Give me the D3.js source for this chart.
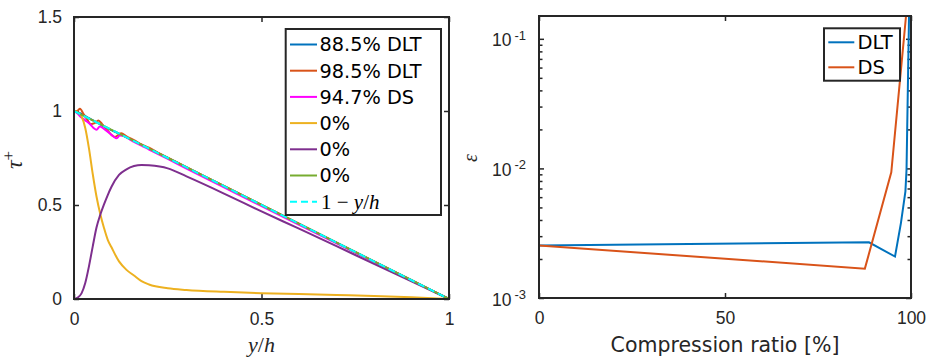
<!DOCTYPE html>
<html>
<head>
<meta charset="utf-8">
<script src="https://cdn.jsdelivr.net/npm/d3@7/dist/d3.min.js"></script>
<style>
  body { margin: 0; background: #fff; }
  svg { display: block; font-family: "DejaVu Sans", sans-serif; }
  .tick text { fill: #262626; }
</style>
</head>
<body>
<svg id="chart" width="934" height="359"></svg>
<script>
// ---- left panel: shear stress profiles ----
const yh = [0, .01, .02, .03, .04, .05, .06, .07, .08, .09, .10, .12, .14, .16, .18, .20, .25, .30, .40, .50, .60, .70, .80, .90, 1.0];
const viscous0 = [1.0, .993, .972, .91, .80, .665, .545, .452, .378, .315, .275, .20, .155, .125, .095, .077, .057, .048, .038, .031, .026, .021, .016, .009, 0];
const reynolds0 = [0, .008, .03, .085, .175, .28, .38, .448, .503, .553, .597, .66, .69, .707, .713, .711, .695, .652, .561, .466, .374, .281, .187, .094, 0];
const total0 = [1.0, .99, .98, .97, .96, .95, .94, .93, .92, .91, .90, .88, .86, .84, .82, .80, .75, .70, .60, .50, .40, .30, .20, .10, 0];

const dlt885X = [0, .02, .04, .06, .08, .10, .15, .20, .30, .50, .70, .90, 1.0];
const dlt885 = [1.0, .985, .962, .94, .918, .898, .85, .80, .70, .50, .30, .10, 0];

const dlt985X = [0, .008, .016, .025, .035, .045, .055, .065, .075, .09, .10, .109, .118, .126, .14, .16, .18, .20, .22, .25, .30, .35, .40, .50, .60, .70, .80, .90, 1.0];
const dlt985 = [1.0, 1.0, 1.012, .985, .955, .93, .935, .95, .93, .895, .872, .862, .872, .882, .865, .845, .822, .805, .783, .752, .702, .651, .601, .501, .401, .30, .20, .10, 0];

const ds947X = [0, .01, .02, .03, .043, .052, .06, .069, .08, .095, .105, .114, .122, .13, .145, .16, .18, .20, .25, .30, .40, .50, .60, .70, .80, .90, 1.0];
const ds947 = [1.0, .985, .965, .95, .93, .91, .90, .918, .905, .882, .865, .855, .87, .868, .853, .836, .816, .795, .745, .694, .594, .494, .395, .296, .197, .098, 0];

const linearX = [0, 1];
const linear = [1, 0];

const leftXTicks = [0, 0.5, 1];
const leftYTicks = [0, 0.5, 1, 1.5];

// ---- right panel: error vs compression ratio ----
const dltRatio = [0, 88.7, 95.7, 97.3, 98.5, 98.8, 99.5];
const dltErr = [2.54e-3, 2.69e-3, 2.09e-3, 3.8e-3, 6.65e-3, 9.8e-3, 0.17];
const dsRatio = [0, 87.6, 94.7, 99.0];
const dsErr = [2.54e-3, 1.685e-3, 9.33e-3, 0.19];

const rightXTicks = [0, 50, 100];
const rightYTicks = [1e-3, 1e-2, 1e-1];

const ink = "#262626";
const svg = d3.select("#chart");

// generic box with inward ticks on all four sides
function drawFrame(g, x, y, xt, yt, w, h) {
  g.append("g").attr("transform", "translate(0," + h + ")")
    .call(d3.axisBottom(x).tickValues(xt).tickSize(-5).tickSizeOuter(0).tickPadding(14).tickFormat(d3.format("")))
    .call(a => a.select(".domain").remove());
  g.append("g")
    .call(d3.axisTop(x).tickValues(xt).tickSize(-5).tickSizeOuter(0).tickFormat(""))
    .call(a => a.select(".domain").remove());
  g.append("g").attr("transform", "translate(" + w + ",0)")
    .call(d3.axisRight(y).tickValues(yt).tickSize(-5).tickSizeOuter(0).tickFormat(""))
    .call(a => a.select(".domain").remove());
  g.selectAll(".tick line").attr("stroke", ink).attr("stroke-width", 1.5);
  g.selectAll(".tick text").style("font-size", "17.5px");
}

// ================= left =================
const L = { left: 74, top: 17, w: 375, h: 282 };
const gl = svg.append("g").attr("transform", "translate(" + L.left + "," + L.top + ")");
const xl = d3.scaleLinear().domain([0, 1]).range([0, L.w]);
const yl = d3.scaleLinear().domain([0, 1.5]).range([L.h, 0]);

drawFrame(gl, xl, yl, leftXTicks, leftYTicks, L.w, L.h);
gl.append("g")
  .call(d3.axisLeft(yl).tickValues(leftYTicks).tickSize(-5).tickSizeOuter(0).tickPadding(12).tickFormat(d3.format("")))
  .call(a => a.select(".domain").remove())
  .call(a => a.selectAll(".tick line").attr("stroke", ink).attr("stroke-width", 1.5))
  .call(a => a.selectAll(".tick text").style("font-size", "17.5px"));

const lineL = d3.line().x(d => xl(d[0])).y(d => yl(d[1])).curve(d3.curveMonotoneX);
const leftSeries = [
  { x: dlt885X, v: dlt885, c: "#0072BD", name: "88.5% DLT" },
  { x: dlt985X, v: dlt985, c: "#D95319", name: "98.5% DLT" },
  { x: ds947X, v: ds947, c: "#FF00FF", name: "94.7% DS" },
  { x: yh, v: viscous0, c: "#EDB120", name: "0%" },
  { x: yh, v: reynolds0, c: "#7E2F8E", name: "0%" },
  { x: yh, v: total0, c: "#77AC30", name: "0%" },
  { x: linearX, v: linear, c: "#00FFFF", name: "lin", dash: "7,4" }
];
gl.selectAll("path.series")
  .data(leftSeries)
  .enter()
  .append("path")
  .attr("class", "series")
  .attr("d", s => lineL(s.x.map((xv, i) => [xv, s.v[i]])))
  .attr("fill", "none")
  .attr("stroke", s => s.c)
  .attr("stroke-width", 2)
  .attr("stroke-dasharray", s => s.dash || null);

gl.append("rect").attr("width", L.w).attr("height", L.h)
  .attr("fill", "none").attr("stroke", ink).attr("stroke-width", 2);

// legend left
const lg = svg.append("g");
lg.append("rect").attr("x", 285.7).attr("y", 29).attr("width", 155.3).attr("height", 186)
  .attr("fill", "#fff").attr("stroke", ink).attr("stroke-width", 2);
leftSeries.forEach((s, i) => {
  const yy = 44.5 + i * 26.2;
  lg.append("line").attr("x1", 290).attr("x2", 317).attr("y1", yy).attr("y2", yy)
    .attr("stroke", s.c).attr("stroke-width", 2).attr("stroke-dasharray", s.dash || null);
  if (s.name === "lin") {
    const t = lg.append("text").attr("x", 321).attr("y", yy).attr("dy", "0.33em")
      .style("font-family", "'Liberation Serif', serif").style("font-size", "21px");
    t.append("tspan").text("1 \u2212 ");
    t.append("tspan").attr("font-style", "italic").text("y");
    t.append("tspan").text("/");
    t.append("tspan").attr("font-style", "italic").text("h");
  } else {
    lg.append("text").attr("x", 319.5).attr("y", yy).attr("dy", "0.36em")
      .style("font-size", "19.3px").attr("fill", "#000").text(s.name);
  }
});

// axis labels left
const xlab = svg.append("text").attr("x", L.left + L.w / 2).attr("y", 352)
  .attr("text-anchor", "middle").attr("fill", ink)
  .style("font-family", "'Liberation Serif', serif").style("font-size", "22px");
xlab.append("tspan").attr("font-style", "italic").text("y");
xlab.append("tspan").text("/");
xlab.append("tspan").attr("font-style", "italic").text("h");

const ylab = svg.append("text").attr("transform", "translate(21.5,160) rotate(-90)")
  .attr("text-anchor", "middle").attr("fill", ink)
  .style("font-family", "'Liberation Serif', serif").style("font-size", "24px");
ylab.append("tspan").attr("font-style", "italic").text("\u03c4");
ylab.append("tspan").attr("dy", "-0.45em").style("font-size", "17px").text("+");

// ================= right =================
const R = { left: 539, top: 16, w: 372, h: 282 };
const gr = svg.append("g").attr("transform", "translate(" + R.left + "," + R.top + ")");
const xr = d3.scaleLinear().domain([0, 100]).range([0, R.w]);
const yr = d3.scaleLog().domain([1e-3, 0.15]).range([R.h, 0]);

const minors = yr.ticks().filter(v => rightYTicks.indexOf(v) < 0 && Math.abs(Math.log10(v) % 1) > 1e-6);

drawFrame(gr, xr, yr, rightXTicks, rightYTicks, R.w, R.h);
gr.append("g").attr("transform", "translate(" + R.w + ",0)")
  .call(d3.axisRight(yr).tickValues(minors).tickSize(-3.5).tickSizeOuter(0).tickFormat(""))
  .call(a => a.select(".domain").remove())
  .call(a => a.selectAll(".tick line").attr("stroke", ink).attr("stroke-width", 1.5));
gr.append("g")
  .call(d3.axisLeft(yr).tickValues(minors).tickSize(-3.5).tickSizeOuter(0).tickFormat(""))
  .call(a => a.select(".domain").remove())
  .call(a => a.selectAll(".tick line").attr("stroke", ink).attr("stroke-width", 1.5));
const yAxR = gr.append("g")
  .call(d3.axisLeft(yr).tickValues(rightYTicks).tickSize(-5).tickSizeOuter(0).tickPadding(10).tickFormat(""))
  .call(a => a.select(".domain").remove())
  .call(a => a.selectAll(".tick line").attr("stroke", ink).attr("stroke-width", 1.5));
yAxR.selectAll(".tick").each(function (d) {
  const t = d3.select(this).append("text").attr("x", -13).attr("y", 0).attr("dy", "0.4em")
    .attr("text-anchor", "end").attr("fill", ink).style("font-size", "17.5px");
  t.append("tspan").text("10");
  t.append("tspan").attr("dx", "3").attr("dy", "-0.5em").style("font-size", "13px").text(String(Math.round(Math.log10(d))));
});

gr.append("clipPath").attr("id", "clipR")
  .append("rect").attr("width", R.w).attr("height", R.h);

const lineR = d3.line().x(d => xr(d[0])).y(d => yr(d[1]));
const rightSeries = [
  { x: dltRatio, v: dltErr, c: "#0072BD", name: "DLT" },
  { x: dsRatio, v: dsErr, c: "#D95319", name: "DS" }
];
gr.append("g").attr("clip-path", "url(#clipR)")
  .selectAll("path")
  .data(rightSeries)
  .enter()
  .append("path")
  .attr("d", s => lineR(s.x.map((xv, i) => [xv, s.v[i]])))
  .attr("fill", "none")
  .attr("stroke", s => s.c)
  .attr("stroke-width", 2);

gr.append("rect").attr("width", R.w).attr("height", R.h)
  .attr("fill", "none").attr("stroke", ink).attr("stroke-width", 2);

// legend right
const rg = svg.append("g");
rg.append("rect").attr("x", 824).attr("y", 28.3).attr("width", 76).attr("height", 52.4)
  .attr("fill", "#fff").attr("stroke", ink).attr("stroke-width", 2);
rightSeries.forEach((s, i) => {
  const yy = 42.3 + i * 25;
  rg.append("line").attr("x1", 828.3).attr("x2", 854.3).attr("y1", yy).attr("y2", yy)
    .attr("stroke", s.c).attr("stroke-width", 2);
  rg.append("text").attr("x", 857.5).attr("y", yy).attr("dy", "0.36em")
    .style("font-size", "19.5px").attr("fill", "#000").text(s.name);
});

svg.append("text").attr("x", R.left + R.w / 2).attr("y", 352)
  .attr("text-anchor", "middle").attr("fill", ink).style("font-size", "20.5px")
  .text("Compression ratio [%]");

svg.append("text").attr("transform", "translate(477,158) rotate(-90)")
  .attr("text-anchor", "middle").attr("fill", ink)
  .style("font-family", "'Liberation Serif', serif").style("font-style", "italic").style("font-size", "20px")
  .text("\u03b5");
</script>
</body>
</html>
